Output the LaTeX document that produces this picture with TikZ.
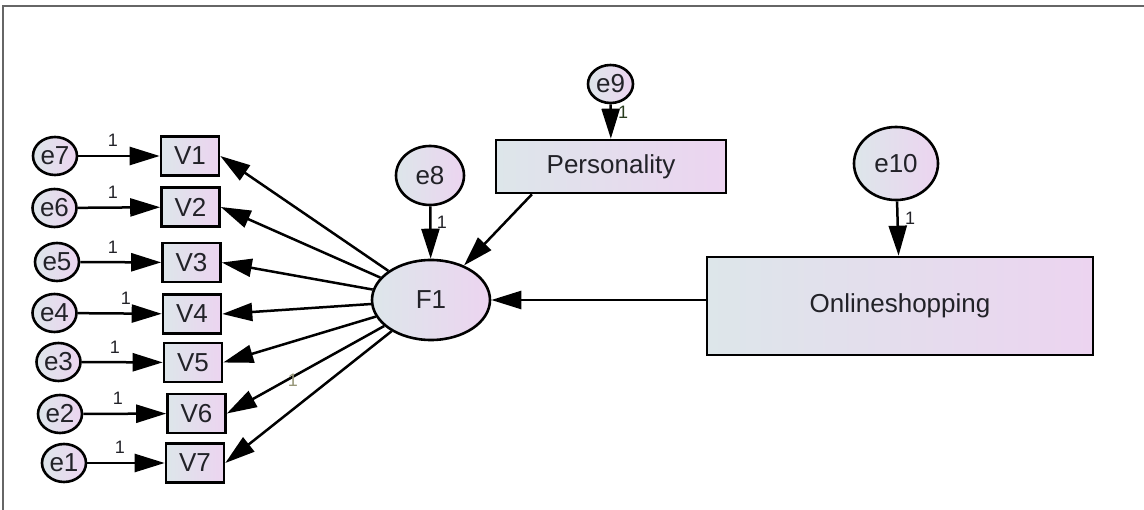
\documentclass[tikz,border=0pt]{standalone}
\usepackage{fontspec}
\setmainfont{Liberation Sans}
\usetikzlibrary{shapes.geometric,arrows.meta,calc}
\definecolor{gl}{RGB}{221,230,234}
\definecolor{gr}{RGB}{236,212,240}
\definecolor{txt}{RGB}{34,34,40}
\definecolor{pale}{RGB}{150,150,120}
\definecolor{dgreen}{RGB}{40,60,30}
\begin{document}
\begin{tikzpicture}[x=1pt,y=-1pt,
  grad/.style={left color=gl,right color=gr,draw=black,line width=2.6pt},
  obs/.style={grad,rectangle,inner sep=0pt,font=\fontsize{26}{30}\selectfont,text=txt},
  obsv/.style={obs,minimum width=58pt,minimum height=39pt},
  err/.style={grad,ellipse,inner sep=0pt,font=\fontsize{26}{30}\selectfont,text=txt},
  erre/.style={err,minimum width=44pt,minimum height=38pt},
  arr/.style={line width=2.5pt,-{Triangle[length=30pt,width=18pt]}},
  one/.style={font=\fontsize{18}{20}\selectfont,text=txt,inner sep=0pt}]
\useasboundingbox (0,0) rectangle (1144,510);
\draw[line width=1.6pt,gray!80!black] (3,510) -- (3,6) -- (1144,6);

% observed variables
\node[obsv] (V1) at (190,156) {V1};
\node[obsv] (V2) at (190.5,207) {V2};
\node[obsv] (V3) at (191.5,262.5) {V3};
\node[obsv] (V4) at (192,314) {V4};
\node[obsv] (V5) at (193,362.5) {V5};
\node[obsv] (V6) at (196.5,413.5) {V6};
\node[obsv] (V7) at (195,463) {V7};

% errors
\node[erre] (e7) at (55,156) {e7};
\node[erre] (e6) at (54.5,208) {e6};
\node[erre] (e5) at (57,262) {e5};
\node[erre] (e4) at (54.5,313) {e4};
\node[erre] (e3) at (58.5,362) {e3};
\node[erre] (e2) at (60,414) {e2};
\node[erre] (e1) at (64,463) {e1};

% latent + others
\node[err,minimum width=118pt,minimum height=80pt] (F1) at (431,300) {F1};
\node[err,minimum width=68pt,minimum height=59pt] (e8) at (430,175.5) {e8};
\node[obs,minimum width=230pt,minimum height=53pt] (P) at (611,166.5) {Personality};
\node[err,minimum width=45pt,minimum height=38pt] (e9) at (610.5,84) {e9};
\node[obs,minimum width=386pt,minimum height=98pt] (OS) at (900,306) {Onlineshopping};
\node[err,minimum width=84pt,minimum height=73pt] (e10) at (896,163.5) {e10};

% error arrows
\draw[arr] (e7) -- (V1);
\draw[arr] (e6) -- (V2);
\draw[arr] (e5) -- (V3);
\draw[arr] (e4) -- (V4);
\draw[arr] (e3) -- (V5);
\draw[arr] (e2) -- (V6);
\draw[arr] (e1) -- (V7);
\node[one] (l7) at (113,140) {1};
\node[one] (l6) at (113,192) {1};
\node[one] (l5) at (113,247) {1};
\node[one] (l4) at (126,298) {1};
\node[one] (l3) at (115,347) {1};
\node[one] (l2) at (118,398) {1};
\node[one] (l1) at (120,447) {1};

% loadings
\draw[arr] (F1) -- (V1.east);
\draw[arr] (F1) -- (V2.east);
\draw[arr] (F1) -- (V3.east);
\draw[arr] (F1) -- (V4.east);
\draw[arr] (F1) -- (V5.east);
\draw[arr] (F1) -- (V6.east);
\draw[arr] (F1) -- (V7.east);
\node[one,text=pale] (l6b) at (293,380) {1};

% structural
\draw[arr] (e8) -- (F1);
\node[one] (l8) at (442,222) {1};
\draw[arr] (e9) -- (P);
\node[one,text=dgreen] (l9) at (623,112) {1};
\coordinate (Pout) at ($(P.south west)!0.16!(P.south east)$);
\draw[arr] (Pout) -- (F1);
\draw[arr] (e10) -- (OS);
\node[one] (l10) at (910,218) {1};
\draw[arr] (OS.west |- F1.east) -- (F1);
\end{tikzpicture}
\end{document}
